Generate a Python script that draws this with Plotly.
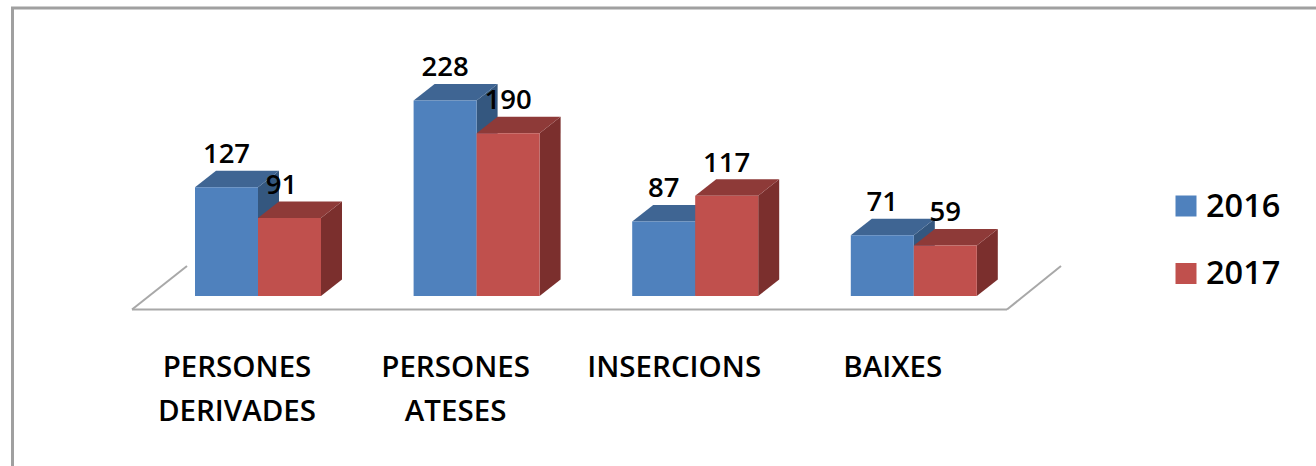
import plotly.graph_objects as go

categories = ["PERSONES\nDERIVADES", "PERSONES\nATESES", "INSERCIONS", "BAIXES"]
series_names = ["2016", "2017"]
values_2016 = [127, 228, 87, 71]
values_2017 = [91, 190, 117, 59]

W, H = 1316, 466
CAT_PX, VAL_PX = 218.6, 0.857          # pixels per category / per unit
X0_PX, Y0_PX = 258.0, 296.0            # pixel of category 0 / of value 0


def xd(px):
    return (px - X0_PX) / CAT_PX


def yd(px):
    return (Y0_PX - px) / VAL_PX


FONT = "Open Sans"
DEPTH_X, DEPTH_Y = 21 / CAT_PX, 16.5 / VAL_PX
BAR_W = 63 / CAT_PX
styles = [
    dict(front="#4F81BD", top="#3F6593", side="#34577F"),
    dict(front="#C0504D", top="#8E3A38", side="#7B2F2D"),
]
all_values = [values_2016, values_2017]


def poly(xs, ys, color):
    path = "M" + " L".join(f"{x:.5f},{y:.4f}" for x, y in zip(xs, ys)) + " Z"
    return dict(type="path", path=path, xref="x", yref="y", fillcolor=color,
                line=dict(width=0), layer="below")


shapes = []
# floor outline
floor_y_front, floor_y_back = yd(309.5), yd(266)
for xs, ys in [
    ([xd(132), xd(187)], [floor_y_front, floor_y_back]),
    ([xd(132), xd(1007)], [floor_y_front, floor_y_front]),
    ([xd(1007), xd(1061)], [floor_y_front, floor_y_back]),
]:
    shapes.append(dict(type="line", xref="x", yref="y", x0=xs[0], x1=xs[1], y0=ys[0], y1=ys[1],
                       line=dict(color="#A8A8A8", width=2), layer="below"))

# top and side faces, derived from each value
for i in range(len(categories)):
    for s, vals in enumerate(all_values):
        left = i + (s - 1) * BAR_W
        right = left + BAR_W
        v = vals[i]
        shapes.append(poly([right, right + DEPTH_X, right + DEPTH_X, right],
                           [0, DEPTH_Y, v + DEPTH_Y, v], styles[s]["side"]))
        shapes.append(poly([left, left + DEPTH_X, right + DEPTH_X, right],
                           [v, v + DEPTH_Y, v + DEPTH_Y, v], styles[s]["top"]))

# outer frame (open on the right and at the bottom)
shapes.append(dict(type="path", xref="paper", yref="paper",
                   path=f"M{12.5/W},0 L{12.5/W},{1-8/H} L1,{1-8/H}",
                   line=dict(color="#A0A0A0", width=3), layer="below"))

fig = go.Figure()
x_idx = list(range(len(categories)))
for s, vals in enumerate(all_values):
    fig.add_trace(go.Bar(x=x_idx, y=vals, name=series_names[s],
                         marker=dict(color=styles[s]["front"], line=dict(width=0)),
                         showlegend=False))

# data labels
LABEL_UP = 31 / VAL_PX
label_nudge = {(0, 1): -8 / CAT_PX}
lx, ly, lt = [], [], []
for s, vals in enumerate(all_values):
    for i, v in enumerate(vals):
        lx.append(i + (s - 0.5) * BAR_W + label_nudge.get((i, s), 0))
        ly.append(v + LABEL_UP)
        lt.append(str(v))
fig.add_trace(go.Scatter(x=lx, y=ly, text=lt, mode="text", textposition="middle center",
                         textfont=dict(family=FONT, size=27.5, color="#000000", weight=600),
                         showlegend=False, hoverinfo="skip"))

# category labels, one text line per row
cx, cy, ct = [], [], []
for i, c in enumerate(categories):
    for row, line in enumerate(c.split("\n")):
        cx.append(i - 21 / CAT_PX)
        cy.append(yd(370 + 44 * row))
        ct.append(line)
fig.add_trace(go.Scatter(x=cx, y=cy, text=ct, mode="text", textposition="middle center",
                         textfont=dict(family=FONT, size=29.5, color="#000000", weight=600),
                         showlegend=False, hoverinfo="skip"))

# legend keys
key_y = [yd(206), yd(273.5)]
fig.add_trace(go.Scatter(x=[xd(1186)] * 2, y=key_y, mode="markers",
                         marker=dict(symbol="square", size=21, line=dict(width=0),
                                     color=[st["front"] for st in styles]),
                         showlegend=False, hoverinfo="skip"))
fig.add_trace(go.Scatter(x=[xd(1206)] * 2, y=[yd(208.5), yd(276)], text=series_names, mode="text",
                         textposition="middle right",
                         textfont=dict(family=FONT, size=32.5, color="#000000", weight=600),
                         showlegend=False, hoverinfo="skip"))

fig.update_layout(
    width=W, height=H, margin=dict(l=0, r=0, t=0, b=0),
    paper_bgcolor="#FFFFFF", plot_bgcolor="rgba(0,0,0,0)",
    barmode="group", bargap=1 - 2 * BAR_W, bargroupgap=0,
    shapes=shapes,
    xaxis=dict(range=[xd(0), xd(W)], visible=False, fixedrange=True),
    yaxis=dict(range=[yd(H), yd(0)], visible=False, fixedrange=True),
)
fig.write_html("out.html", config=dict(displayModeBar=False),
               post_script="document.body.style.margin='0';document.body.style.overflow='hidden';")
